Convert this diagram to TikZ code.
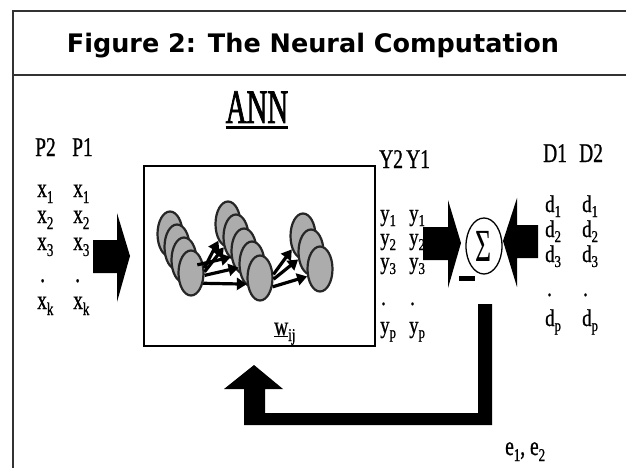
\documentclass[tikz,border=0pt]{standalone}
\usepackage{fontspec}
\usetikzlibrary{shapes.geometric,arrows.meta}
\newfontfamily\labfont[FakeStretch=0.72,FakeBold=0.8]{Liberation Serif}
\newfontfamily\labfontb[FakeStretch=0.78,FakeBold=0.8]{Liberation Serif}
\newfontfamily\annfont[FakeStretch=0.6,FakeBold=1.5]{Liberation Serif}
\newfontfamily\sumfont[FakeStretch=0.6]{Liberation Serif}
\newfontfamily\titlefont{DejaVu Sans}
\newcommand\lsb[1]{\raisebox{-6pt}{\fontsize{18}{18}\selectfont #1}}
\newcommand\lsbb[1]{\raisebox{-5pt}{\fontsize{16.5}{16.5}\selectfont #1}}
\begin{document}
\begin{tikzpicture}[x=1pt,y=-1pt,
  lab/.style={font=\labfont\fontsize{27}{27}\selectfont, inner sep=0pt, anchor=base west},
  labs/.style={font=\labfontb\fontsize{24}{24}\selectfont, inner sep=0pt, anchor=base west},
  neuron/.style={ellipse, draw=black!85, line width=2.2pt, fill=gray!65, minimum width=25pt, minimum height=45pt, inner sep=0pt},
  syn/.style={line width=3.2pt, -{Triangle[length=10pt,width=12pt]}},
  frameline/.style={line width=1.2pt, draw=black!80},
  blockarrow/.style={fill=black}
]
\useasboundingbox (0,0) rectangle (626,468);
\fill[white] (0,0) rectangle (626,468);
% outer frame and header
\draw[frameline] (626,11) -- (13,11) -- (13,468);
\draw[frameline] (13,75) -- (626,75);
\node[font=\titlefont\bfseries\fontsize{25.5}{25.5}\selectfont, anchor=base, inner sep=0pt] (title) at (313,53) {Figure 2: The Neural Computation};

% ANN box and label
\node[draw, line width=1.5pt, minimum width=231pt, minimum height=180pt, inner sep=0pt, anchor=north west] (box) at (143,165) {};
\node[font=\annfont\fontsize{48}{48}\selectfont, anchor=base, inner sep=0pt] (ann) at (257,123) {ANN};
\draw[line width=3pt] ([yshift=-5pt]ann.base west) -- ([yshift=-5pt]ann.base east);

% neurons
\foreach \i/\x/\y in {1/170/234, 2/177/247, 3/184/260, 4/191/273}
  \node[neuron] (n1\i) at (\x,\y) {};
\foreach \i/\x/\y in {1/228/224, 2/236/237, 3/244/251, 4/252/264, 5/260/278}
  \node[neuron] (n2\i) at (\x,\y) {};
\foreach \i/\x/\y in {1/303/236, 2/311/252, 3/320/269}
  \node[neuron] (n3\i) at (\x,\y) {};

% synapses
\draw[syn] (n14.20) -- (n21.240);
\draw[syn] (n14.5) -- (n22.220);
\draw[syn] (n13.-20) -- (n23.205);
\draw[syn] (n14.-10) -- (n24.195);
\draw[syn] (n14.-40) -- (n25.205);
\draw[syn] (n25.15) -- (n31.230);
\draw[syn] (n25.-5) -- (n32.210);
\draw[syn] (n25.-35) -- (n33.210);

% input labels
\node[lab] (p2) at (35,156) {P2};
\node[lab] (p1) at (72,156) {P1};
\node[lab] (xa1) at (37,197) {x\lsb{1}};
\node[lab] (xb1) at (73,197) {x\lsb{1}};
\node[lab] (xa2) at (37,223) {x\lsb{2}};
\node[lab] (xb2) at (73,223) {x\lsb{2}};
\node[lab] (xa3) at (37,250) {x\lsb{3}};
\node[lab] (xb3) at (73,250) {x\lsb{3}};
\node[lab] (xad) at (40,282) {.};
\node[lab] (xbd) at (75,282) {.};
\node[lab] (xak) at (37,309) {x\lsb{k}};
\node[lab] (xbk) at (73,309) {x\lsb{k}};

% output labels
\node[lab] (Y2) at (379,168) {Y2};
\node[lab] (Y1) at (406,168) {Y1};
\node[labs] (ya1) at (380,221) {y\lsbb{1}};
\node[labs] (yb1) at (409,221) {y\lsbb{1}};
\node[labs] (ya2) at (380,245) {y\lsbb{2}};
\node[labs] (yb2) at (409,245) {y\lsbb{2}};
\node[labs] (ya3) at (380,269) {y\lsbb{3}};
\node[labs] (yb3) at (409,269) {y\lsbb{3}};
\node[labs] (yad) at (381,305) {.};
\node[labs] (ybd) at (410,305) {.};
\node[labs] (yap) at (380,333) {y\lsbb{p}};
\node[labs] (ybp) at (409,333) {y\lsbb{p}};

% desired labels
\node[lab] (D1) at (543,162) {D1};
\node[lab] (D2) at (579,162) {D2};
\node[labs] (da1) at (545,212) {d\lsbb{1}};
\node[labs] (db1) at (582,212) {d\lsbb{1}};
\node[labs] (da2) at (545,237) {d\lsbb{2}};
\node[labs] (db2) at (582,237) {d\lsbb{2}};
\node[labs] (da3) at (545,262) {d\lsbb{3}};
\node[labs] (db3) at (582,262) {d\lsbb{3}};
\node[labs] (dad) at (547,296) {.};
\node[labs] (dbd) at (583,296) {.};
\node[labs] (dap) at (545,326) {d\lsbb{p}};
\node[labs] (dbp) at (582,326) {d\lsbb{p}};

% weights and errors
\node[lab] (w) at (274,335) {\underline{w}\lsb{ij}};
\node[lab] (err) at (505,455) {e\lsb{1}, e\lsb{2}};

% summation
\node[ellipse, draw, line width=1.3pt, minimum width=36pt, minimum height=56pt, inner sep=0pt,
  font=\sumfont\fontsize{46}{46}\selectfont] (sum) at (484,246) {Σ};
\fill (459,276) rectangle (475,281);

% block arrows
\fill[blockarrow] (93,240) -- (117,240) -- (117,213) -- (130,256) -- (117,302) -- (117,273) -- (93,273) -- cycle;
\fill[blockarrow] (423,227) -- (448,227) -- (448,200) -- (461,243) -- (448,288) -- (448,260) -- (423,260) -- cycle;
\fill[blockarrow] (538,225) -- (517,225) -- (517,198) -- (503,241) -- (517,287) -- (517,258) -- (538,258) -- cycle;
% feedback arrow
\fill[blockarrow] (478,304) -- (492,304) -- (492,425) -- (244,425) -- (244,389) -- (224,389) -- (254,365) -- (283,389) -- (265,389) -- (265,413) -- (478,413) -- cycle;
\end{tikzpicture}
\end{document}
